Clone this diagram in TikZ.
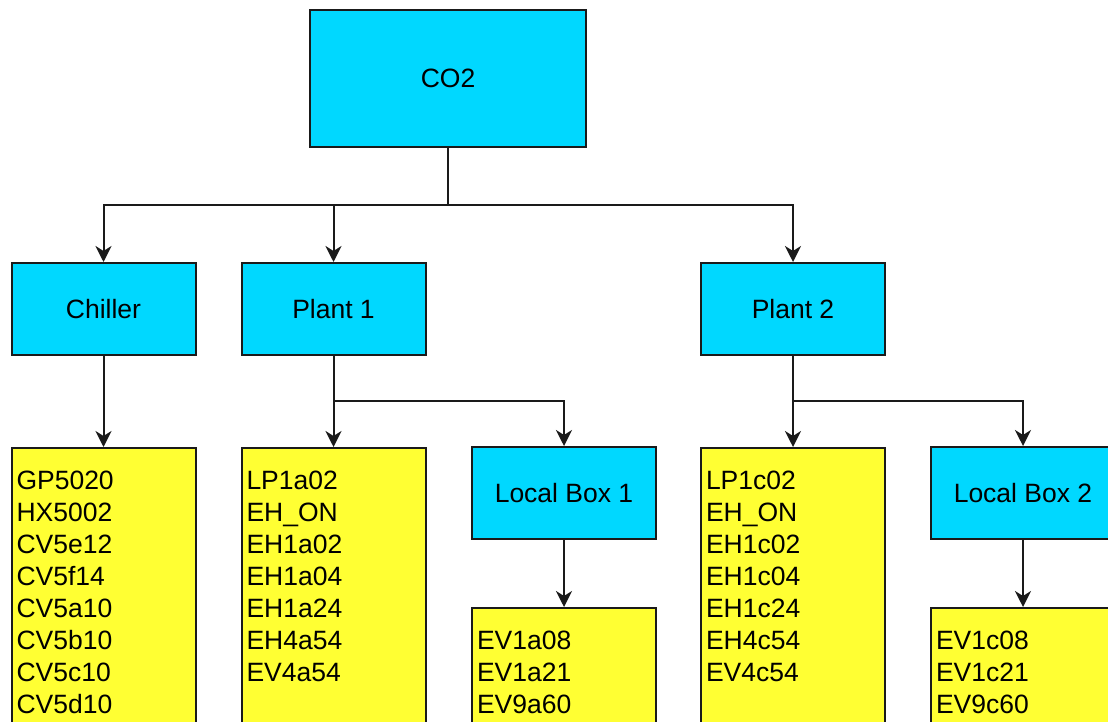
\documentclass[tikz,border=0pt]{standalone}
\usepackage{fontspec}
\setmainfont{Liberation Sans}
\usetikzlibrary{arrows.meta}
\definecolor{boxcyan}{HTML}{00D8FF}
\definecolor{boxyellow}{HTML}{FFFF33}
\definecolor{linegray}{HTML}{1A1A1A}
\begin{document}
\begin{tikzpicture}[x=1pt, y=-1pt,
    >={Stealth[length=16pt,width=16pt,inset=5pt]},
    every node/.style={font=\fontsize{26.5}{32}\selectfont},
    unit/.style={draw=linegray, line width=2pt, fill=boxcyan,
      minimum width=184pt, minimum height=92pt, inner sep=0pt},
    tags/.style={draw=linegray, line width=2pt, fill=boxyellow,
      anchor=north, text width=174pt, inner xsep=5pt, inner ysep=0pt,
      align=left, text height=41pt, text depth=300pt},
    edge/.style={->, draw=linegray, line width=2pt},
    link/.style={draw=linegray, line width=2pt}]

  \useasboundingbox (0,0) rectangle (1108,722);
  \clip (0,0) rectangle (1108,722);

  % top level
  \node[unit, minimum width=276pt, minimum height=137pt] (co2) at (448,78.5) {CO2};

  % second level
  \node[unit] (chiller) at (103.5,309) {Chiller};
  \node[unit] (plant1)  at (333.5,309) {Plant 1};
  \node[unit] (plant2)  at (793,309)   {Plant 2};

  % local boxes
  \node[unit] (lbox1) at (564,493)  {Local Box 1};
  \node[unit] (lbox2) at (1023,493) {Local Box 2};

  % signal lists
  \node[tags] (chillertags) at (103.5,447) {GP5020\\HX5002\\CV5e12\\CV5f14\\CV5a10\\CV5b10\\CV5c10\\CV5d10};
  \node[tags] (plant1tags)  at (333.5,447) {LP1a02\\EH\_ON\\EH1a02\\EH1a04\\EH1a24\\EH4a54\\EV4a54};
  \node[tags] (lbox1tags)   at (564,607)   {EV1a08\\EV1a21\\EV9a60};
  \node[tags] (plant2tags)  at (793,447)   {LP1c02\\EH\_ON\\EH1c02\\EH1c04\\EH1c24\\EH4c54\\EV4c54};
  \node[tags] (lbox2tags)   at (1023,607)  {EV1c08\\EV1c21\\EV9c60};

  % junctions
  \coordinate (co2bus)    at (448,205);
  \coordinate (plant1bus) at (333.5,401);
  \coordinate (plant2bus) at (793,401);

  \draw[link] (co2.south) -- (co2bus);
  \draw[edge] (co2bus) -| (chiller.north);
  \draw[edge] (co2bus) -| (plant1.north);
  \draw[edge] (co2bus) -| (plant2.north);

  \draw[edge] (chiller.south) -- (chillertags.north);

  \draw[link] (plant1.south) -- (plant1bus);
  \draw[edge] (plant1bus) -- (plant1tags.north);
  \draw[edge] (plant1bus) -| (lbox1.north);
  \draw[edge] (lbox1.south) -- (lbox1tags.north);

  \draw[link] (plant2.south) -- (plant2bus);
  \draw[edge] (plant2bus) -- (plant2tags.north);
  \draw[edge] (plant2bus) -| (lbox2.north);
  \draw[edge] (lbox2.south) -- (lbox2tags.north);
\end{tikzpicture}
\end{document}
